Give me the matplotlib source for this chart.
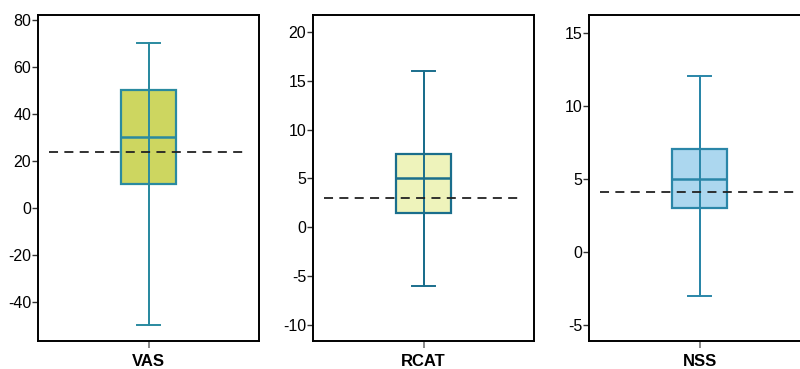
import matplotlib.pyplot as plt

plt.rcParams['font.family'] = ['Liberation Sans', 'DejaVu Sans']

# donnees
scales = ['VAS', 'RCAT', 'NSS']
whisker_low = [-50, -6, -3]
q1 = [10, 1.5, 3]
medians = [30, 5, 5]
q3 = [50, 7.5, 7]
whisker_high = [70, 16, 12]
means = [23.7, 3.0, 4.1]
yticks = [[-40, -20, 0, 20, 40, 60, 80], [-10, -5, 0, 5, 10, 15, 20], [-5, 0, 5, 10, 15]]
ylims = [(-56.6, 82.1), (-11.6, 21.7), (-6.1, 16.2)]

fills = ['#cdd660', '#eef3bb', '#acd7ef']
edges = ['#2a8aa0', '#1a6e8c', '#2a86a8']

fig = plt.figure(figsize=(8.0, 3.69), dpi=100)
lefts = [38 / 800, 313 / 800, 589 / 800]

for i, name in enumerate(scales):
    ax = fig.add_axes([lefts[i], 28 / 369, 221 / 800, 326 / 369])
    stats = [{'whislo': whisker_low[i], 'q1': q1[i], 'med': medians[i],
              'q3': q3[i], 'whishi': whisker_high[i], 'fliers': [], 'label': name}]
    ec = edges[i]
    ax.bxp(stats, positions=[0], widths=0.245, patch_artist=True, showfliers=False,
           boxprops=dict(facecolor=fills[i], edgecolor=ec, linewidth=1.6),
           medianprops=dict(color=ec, linewidth=1.8),
           whiskerprops=dict(color=ec, linewidth=1.4),
           capprops=dict(color=ec, linewidth=1.4), capwidths=0.1)
    # la moustache traverse la boite
    ax.vlines(0, whisker_low[i], whisker_high[i], color=ec, linewidth=1.4, zorder=3)
    ax.axhline(means[i], xmin=0.05, xmax=0.95, color='#222222', linewidth=1.3,
               dashes=(5, 3.5), zorder=4)

    ax.set_xlim(-0.5, 0.5)
    ax.set_ylim(*ylims[i])
    ax.set_yticks(yticks[i])
    ax.set_yticklabels([str(t) for t in yticks[i]], fontsize=11.5)
    ax.set_xticks([0])
    ax.set_xticklabels([name], fontsize=12, fontweight='bold')
    ax.tick_params(axis='y', length=4, width=1, color='#333333', pad=1)
    ax.tick_params(axis='x', length=5, width=1.2, color='#777777', pad=4)
    for sp in ax.spines.values():
        sp.set_linewidth(1.4)
        sp.set_color('black')

fig.savefig('out.png', dpi=100)
plt.close()
